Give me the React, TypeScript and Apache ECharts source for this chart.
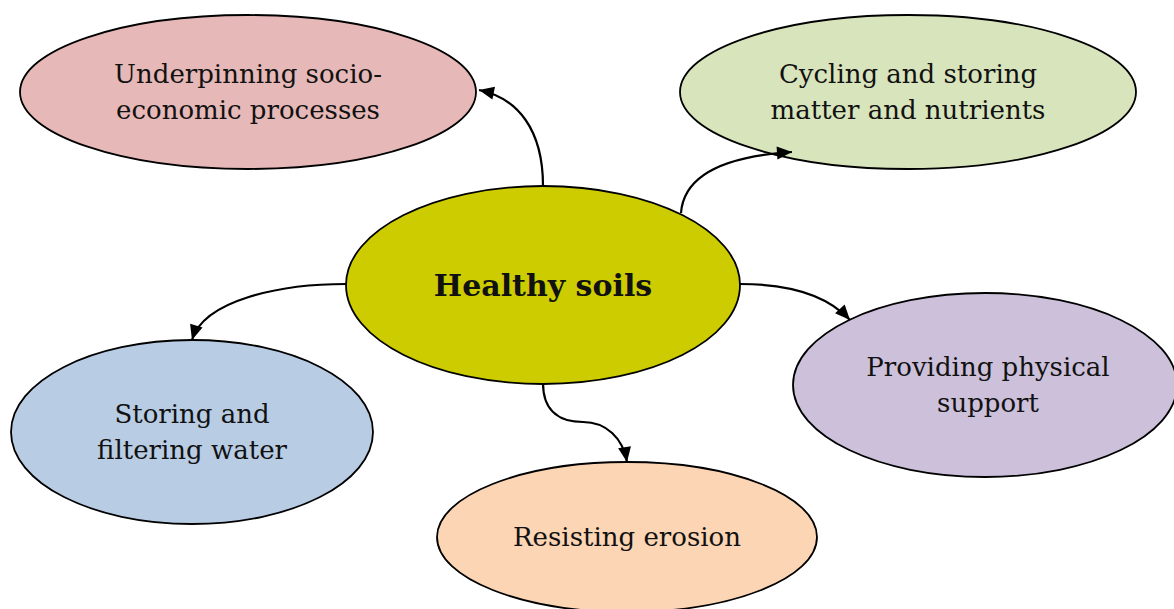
import React, { useEffect, useRef } from "react";
import * as echarts from "echarts";

// Node labels and fills
const nodeLabels: string[][] = [
  ["Underpinning socio-", "economic processes"],
  ["Cycling and storing", "matter and nutrients"],
  ["Healthy soils"],
  ["Providing physical", "support"],
  ["Storing and", "filtering water"],
  ["Resisting erosion"],
];
const nodeColors = ["#E6B8B7", "#D8E4BC", "#CCCC00", "#CCC0DA", "#B8CCE4", "#FCD5B4"];
const nodeBold = [false, false, true, false, false, false];

// Layout: [cx, cy, rx, ry]
const nodeLayout: number[][] = [
  [248, 92, 228, 77],
  [908, 92, 228, 77],
  [543, 285, 197, 99],
  [985, 385, 192, 92],
  [192, 432, 181, 92],
  [627, 537, 190, 75],
];

// Arrow paths: lists of cubic segments [x1,y1,cp1x,cp1y,cp2x,cp2y,x2,y2]
const arrows: number[][][] = [
  [[543, 186, 543, 130, 518, 98, 479, 90]],
  [[681, 213, 684, 172, 730, 156, 792, 152]],
  [[740, 284, 792, 284, 828, 296, 850, 320]],
  [
    [543, 383, 543, 414, 563, 422, 583, 422],
    [583, 422, 606, 422, 623, 438, 627, 462],
  ],
  [[346, 284, 280, 284, 204, 300, 192, 340]],
];

const FONT = "'Palatino Linotype', 'Book Antiqua', Palatino, 'DejaVu Serif', serif";

export default function App() {
  const ref = useRef<HTMLDivElement>(null);
  useEffect(() => {
    if (!ref.current) return;
    const chart = echarts.init(ref.current, undefined, { renderer: "svg" });
    const elements: any[] = [];

    nodeLayout.forEach(([cx, cy, rx, ry], i) => {
      elements.push({
        type: "ellipse",
        shape: { cx, cy, rx, ry },
        style: { fill: nodeColors[i], stroke: "#000", lineWidth: 1.8 },
        z: 1,
      });
    });

    arrows.forEach((segs) => {
      segs.forEach((s) => {
        elements.push({
          type: "bezierCurve",
          shape: { x1: s[0], y1: s[1], cpx1: s[2], cpy1: s[3], cpx2: s[4], cpy2: s[5], x2: s[6], y2: s[7] },
          style: { stroke: "#000", lineWidth: 2.2, fill: null },
          z: 2,
        });
      });
      const last = segs[segs.length - 1];
      const tx = last[6], ty = last[7];
      const dx = tx - last[4], dy = ty - last[5];
      const len = Math.sqrt(dx * dx + dy * dy) || 1;
      const ux = dx / len, uy = dy / len;
      const L = 15, W = 6.5;
      const bx = tx - ux * L, by = ty - uy * L;
      elements.push({
        type: "polygon",
        shape: {
          points: [
            [tx, ty],
            [bx - uy * W, by + ux * W],
            [bx + uy * W, by - ux * W],
          ],
        },
        style: { fill: "#000" },
        z: 3,
      });
    });

    nodeLayout.forEach(([cx, cy], i) => {
      const lines = nodeLabels[i];
      const lh = 36;
      lines.forEach((t, k) => {
        const y = cy - ((lines.length - 1) * lh) / 2 + k * lh;
        elements.push({
          type: "text",
          x: cx + (i === 3 ? 3 : 0),
          y,
          style: {
            text: t,
            fill: "#111",
            font: `${nodeBold[i] ? "bold " : ""}${nodeBold[i] ? 30 : 26}px ${FONT}`,
            align: "center",
            verticalAlign: "middle",
          },
          z: 4,
        });
      });
    });

    chart.setOption({
      animation: false,
      backgroundColor: "#fff",
      graphic: { elements },
    });
    return () => chart.dispose();
  }, []);
  return (
    <div
      ref={ref}
      style={{ position: "fixed", left: 0, top: 0, width: 1174, height: 609 }}
    />
  );
}
